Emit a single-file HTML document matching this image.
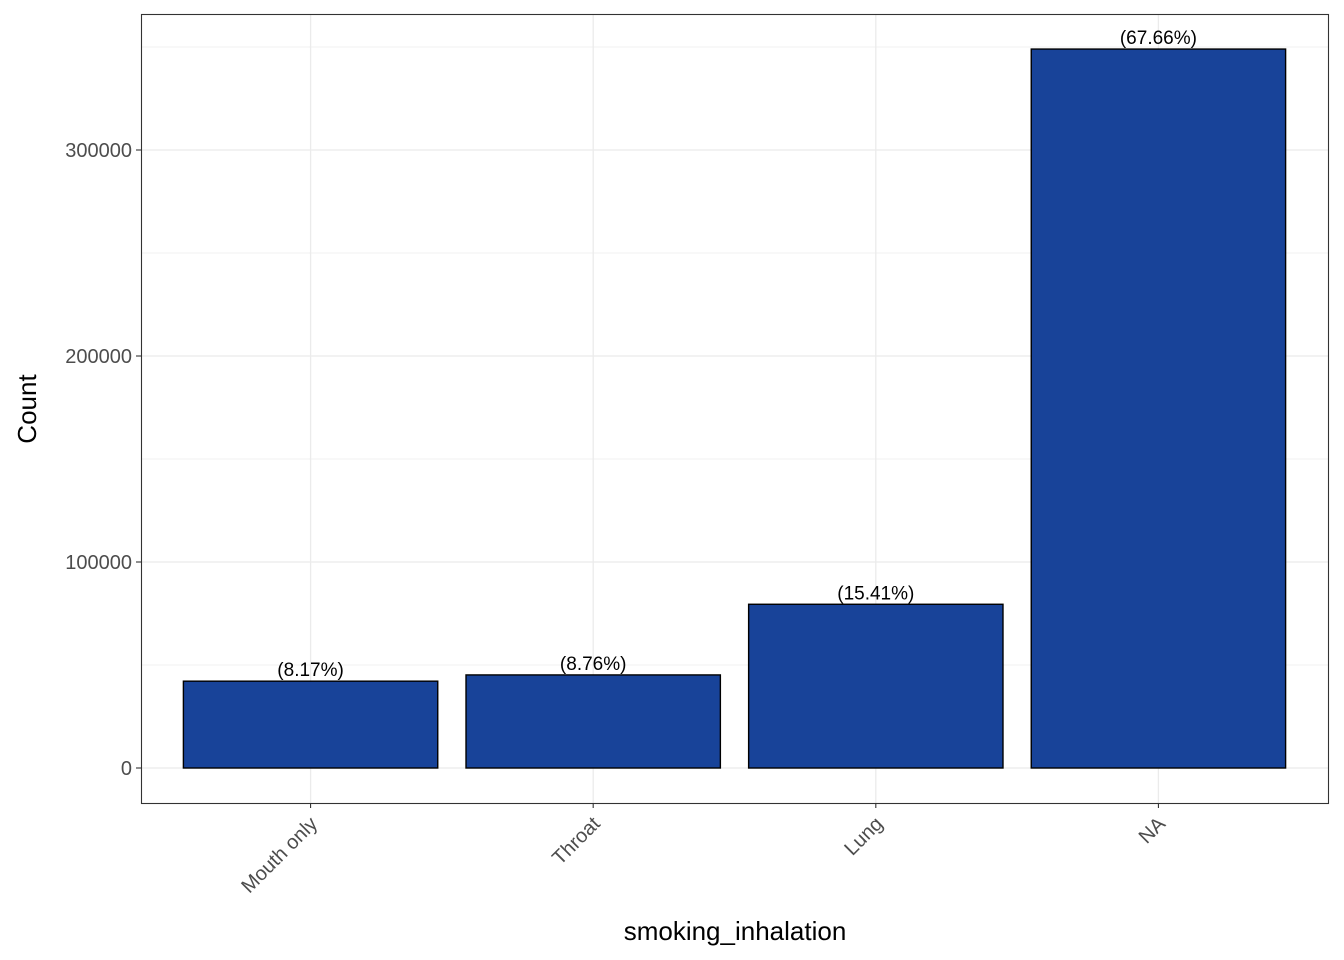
<!DOCTYPE html>
<html><head><meta charset="utf-8"><style>
html,body{margin:0;padding:0;background:#fff;}
svg{display:block;font-family:"Liberation Sans",Arial,sans-serif;}
</style></head><body>
<svg id="chart" width="1344" height="960" viewBox="0 0 1344 960">
<rect x="0" y="0" width="1344" height="960" fill="#fff"/>
<g id="grid"></g>
<g id="bars"></g>
<g id="labels"></g>
<rect x="141.5" y="14.5" width="1187" height="789" fill="none" stroke="#333" stroke-width="1.1"/>
<g id="axes"></g>
<text x="735" y="940" text-anchor="middle" font-size="26" fill="#000">smoking_inhalation</text>
<text transform="translate(36,409) rotate(-90)" text-anchor="middle" font-size="26" fill="#000">Count</text>
</svg>
<script>
const categories = ["Mouth only","Throat","Lung","NA"];
const counts = [42150, 45180, 79480, 349000];
const pctLabels = ["(8.17%)","(8.76%)","(15.41%)","(67.66%)"];
const yTicks = [0,100000,200000,300000];
const yMinor = [50000,150000,250000,350000];

const NS="http://www.w3.org/2000/svg";
const px0=141, px1=1328, py0=14, py1=803;
const y0px=768, pxPer=206/100000;
function yScale(v){return y0px - v*pxPer;}
const step=(px1-px0)/(categories.length+0.2);
function xScale(i){return px0 + step*(0.6+i);}
const bw=step*0.9;

function mk(tag,attrs,parent){const e=document.createElementNS(NS,tag);for(const k in attrs)e.setAttribute(k,attrs[k]);parent.appendChild(e);return e;}
const grid=document.getElementById('grid'),bars=document.getElementById('bars'),labels=document.getElementById('labels'),axes=document.getElementById('axes');

yMinor.forEach(v=>{const l=mk('line',{x1:px0,x2:px1,y1:yScale(v),y2:yScale(v),stroke:'#f0f0f0','stroke-width':1},grid);

});
yTicks.forEach(v=>{const y=yScale(v);
const l=mk('line',{x1:px0,x2:px1,y1:y,y2:y,stroke:'#ebebeb','stroke-width':1.3},grid);


const t=mk('line',{x1:px0-5,x2:px0,y1:y,y2:y,stroke:'#333','stroke-width':1.1},axes);


const tx=mk('text',{x:px0-9,y:y+7,'text-anchor':'end','font-size':20,fill:'#4d4d4d'},axes);
tx.textContent=String(v);

});
categories.forEach((c,i)=>{const x=xScale(i);
const l=mk('line',{x1:x,x2:x,y1:py0,y2:py1,stroke:'#ebebeb','stroke-width':1.3},grid);


const yt=yScale(counts[i]);
const r=mk('rect',{x:x-bw/2,y:yt,width:bw,height:y0px-yt,fill:'#184399',stroke:'#000','stroke-width':1.4},bars);


const lb=mk('text',{x:x,y:yt-5,'text-anchor':'middle','font-size':19,fill:'#000'},labels);
lb.textContent=pctLabels[i];


const t=mk('line',{x1:x,x2:x,y1:py1,y2:py1+5,stroke:'#333','stroke-width':1.1},axes);


const tx=mk('text',{transform:'translate('+(x+8)+','+(py1+22)+') rotate(-45)','text-anchor':'end','font-size':20,fill:'#4d4d4d'},axes);
tx.textContent=c;

});
</script>
</body></html>
